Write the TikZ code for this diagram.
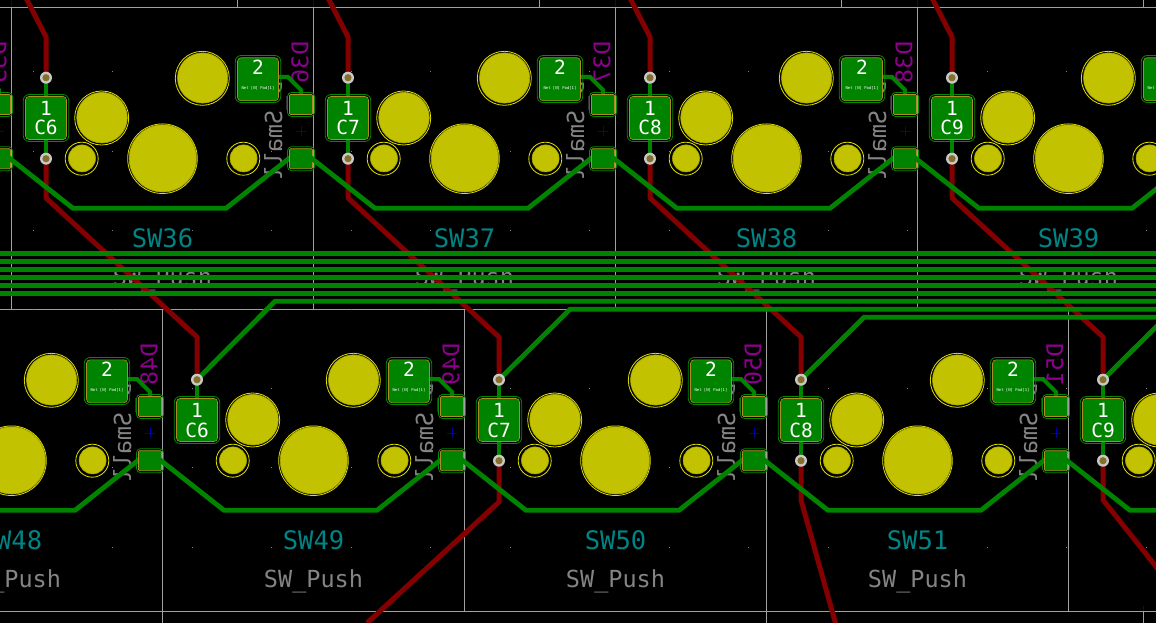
\documentclass[tikz,border=0pt]{standalone}
\usepackage{fontspec}
\usepackage{graphicx}
\setmonofont{DejaVu Sans Mono}
\definecolor{pcbgreen}{HTML}{008400}
\definecolor{pcbred}{HTML}{840000}
\definecolor{frameg}{HTML}{A0A0A0}
\definecolor{silkg}{HTML}{848484}
\definecolor{teal2}{HTML}{008484}
\definecolor{mag2}{HTML}{8C008C}
\definecolor{holef}{HTML}{C2C200}
\definecolor{holee}{HTML}{A8A800}
\definecolor{holel}{HTML}{E0E000}
\definecolor{padedge}{HTML}{B08A2A}
\definecolor{padline}{HTML}{008C00}
\definecolor{viaring}{HTML}{C8C8C8}
\definecolor{viahole}{HTML}{84702A}
\definecolor{blue2}{HTML}{0000A8}
\tikzset{
  frameline/.style={draw=frameg,line width=0.9pt},
  gtrace/.style={draw=pcbgreen,line width=4.8pt,line join=miter},
  rtrace/.style={draw=pcbred,line width=5pt,line join=round},
  bigpad/.style={rectangle,rounded corners=3.5pt,fill=pcbgreen,draw=padedge,line width=0.6pt,minimum width=41pt,minimum height=43pt,inner sep=0pt},
  bigring/.style={rectangle,rounded corners=6pt,draw=padline,line width=0.8pt,minimum width=45.5pt,minimum height=47pt,inner sep=0pt},
  smallpad/.style={rectangle,rounded corners=1pt,fill=pcbgreen,draw=padedge,line width=0.6pt,minimum width=23pt,minimum height=20pt,inner sep=0pt},
  smallring/.style={rectangle,rounded corners=4pt,draw=padline,line width=0.8pt,minimum width=27pt,minimum height=24pt,inner sep=0pt},
  padtxt/.style={text=white,font=\ttfamily\fontsize{19.5}{19}\selectfont,inner sep=0pt,anchor=base},
  tinytxt/.style={text=white,font=\ttfamily\fontsize{3.9}{4}\selectfont,inner sep=0pt},
  reftxt/.style={text=teal2,font=\ttfamily\fontsize{25.5}{26}\selectfont,inner sep=0pt,anchor=base},
  valtxt/.style={text=silkg,font=\ttfamily\fontsize{23.5}{24}\selectfont,inner sep=0pt,anchor=base},
  dtxt/.style={text=mag2,font=\ttfamily\fontsize{23}{24}\selectfont,inner sep=0pt,rotate=90},
  smalltxt/.style={text=silkg,font=\ttfamily\fontsize{23.5}{24}\selectfont,inner sep=0pt,rotate=90},
}
\newcommand\allunits[1]{%
  \foreach \r/\k/\dx/\dy/\base in {t/-1/-302/0/36,t/0/0/0/36,t/1/302/0/36,t/2/604/0/36,t/3/906/0/36,b/-1/-151/302/49,b/0/151/302/49,b/1/453/302/49,b/2/755/302/49,b/3/1057/302/49}{%
    \pgfmathtruncatemacro\num{\base+\k}%
    \begin{scope}[shift={(\dx,\dy)}]#1\end{scope}}}
\begin{document}
\begin{tikzpicture}[x=1pt,y=-1pt]
\useasboundingbox (0,0) rectangle (1156,623);
\fill[black] (0,0) rectangle (1156,623);
% frames
\draw[frameline] (0,7.3) -- (1156,7.3) (0,309.3) -- (1156,309.3) (0,611.3) -- (1156,611.3);
\foreach \x in {11.6,313.6,615.6,917.6}{\draw[frameline] (\x,7.3) -- (\x,309.3);}
\foreach \x in {162.6,464.6,766.6,1068.6}{\draw[frameline] (\x,309.3) -- (\x,611.3);}
\foreach \x in {237.7,539.7,841.7,1143.7}{\draw[frameline] (\x,0) -- (\x,7.3);}
\foreach \x in {162.6,766.6,1143.7}{\draw[frameline] (\x,611.3) -- (\x,623);}
\foreach \x in {11.7,313.7,615.7,917.7}{\draw[blue2,line width=0.8pt] (\x,0) -- (\x,7);}
\draw[blue2,line width=0.8pt] (1143.7,606) -- (1143.7,611);
% grid dots
\foreach \i in {0,...,14}{\foreach \y in {72,151,230,309,388,467,547}{
  \fill[silkg] ({33+79.5*\i-0.5},\y-0.5) rectangle ++(1,1);}}
% silk text and marks
\allunits{
  \node[reftxt] (ref-\r\k) at (162.5,247.3) {SW\num};
  \node[valtxt] (val-\r\k) at (162.5,285) {SW\_Push};
  \node[smalltxt] (small-\r\k) at (276,131.5) {\reflectbox{D\_Small}};
  \node[dtxt] (d-\r\k) at (300,62.5) {\reflectbox{D\num}};
  \draw[blue2,line width=0.8pt] (296,131) -- (306,131) (301,126) -- (301,136);
}
% holes
\allunits{
  \foreach \hx/\hy/\ro/\ri in {162.5/158.7/34.8/33.6,81.7/158.7/16.5/13.5,243.3/158.7/16.5/13.5,101.7/118/27/25.3,202.3/78.3/27/25.1}{
    \draw[holel,line width=0.8pt] (\hx,\hy) circle (\ro);
    \fill[holef,draw=holee,line width=0.6pt] (\hx+0.3,\hy-0.3) circle (\ri);
  }
}
% via positions
\foreach \n/\x/\y in {vta6/46/77.7,vtb6/46/158.7,vta7/348/77.7,vtb7/348/158.7,vta8/650/77.7,vtb8/650/158.7,vta9/952/77.7,vtb9/952/158.7,vba6/197/379.7,vba7/499/379.7,vbb7/499/460.7,vba8/801/379.7,vbb8/801/460.7,vba9/1103/379.7,vbb9/1103/460.7}
  {\coordinate (\n) at (\x,\y);}
% red traces
\draw[rtrace] (26,-2) -- (46,37) -- (vta6);
\draw[rtrace] (328,-2) -- (348,37) -- (vta7);
\draw[rtrace] (630,-2) -- (650,37) -- (vta8);
\draw[rtrace] (932,-2) -- (952,37) -- (vta9);
\draw[rtrace] (vtb6) -- (46,198) -- (197,337) -- (vba6);
\draw[rtrace] (vtb7) -- (348,198) -- (499,337) -- (vba7);
\draw[rtrace] (vtb8) -- (650,198) -- (801,337) -- (vba8);
\draw[rtrace] (vtb9) -- (952,198) -- (1103,337) -- (vba9);
\draw[rtrace] (vbb7) -- (499,502) -- (367,623);
\draw[rtrace] (vbb8) -- (801,500) -- (836,625);
\draw[rtrace] (vbb9) -- (1103,500) -- (1158,569);
% green bus
\foreach \y in {253.3,261.3,269.3,277.3,285.3,293.3}{\draw[gtrace] (0,\y) -- (1156,\y);}
\draw[gtrace] (vba6) -- (275,301.3) -- (1156,301.3);
\draw[gtrace] (vba7) -- (570,309.3) -- (1156,309.3);
\draw[gtrace] (vba8) -- (864,317.3) -- (1156,317.3);
\draw[gtrace] (vba9) -- (1158,325);
% via to pad
\foreach \n in {6,7,8,9}{\draw[gtrace] (vta\n) -- (vtb\n);}
\draw[gtrace] (vba6) -- (197,420);
\foreach \n in {7,8,9}{\draw[gtrace] (vba\n) -- (vbb\n);}
% pads, unit traces
\allunits{
  \coordinate (pc-\r\k) at (258,79);
  \coordinate (pu-\r\k) at (301,104.5);
  \coordinate (pl-\r\k) at (301,158.7);
  \draw[gtrace,line width=4pt] (pc-\r\k) -- (270,77) -- (288,77) -- (301,90) -- (pu-\r\k);
  \draw[gtrace] (1,151.5) -- (73,208.3) -- (226,208.3) -- (299,150.5);
  \node[bigring] (r2-\r\k) at (258,79) {};
  \node[bigpad] (p2-\r\k) at (258,79.3) {};
  \node[smallring] (ru-\r\k) at (pu-\r\k) {};
  \node[smallpad] (u-\r\k) at (pu-\r\k) {};
  \node[smallring] (rl-\r\k) at (pl-\r\k) {};
  \node[smallpad] (l-\r\k) at (pl-\r\k) {};
  \node[padtxt] (t2-\r\k) at (258,74.5) {2};
  \node[tinytxt] (n2-\r\k) at (258,88) {Net [N] Pad[1]};
}
% numbered pads
\foreach \n/\c/\x/\y in {a/6/46/0,b/7/348/0,c/8/650/0,d/9/952/0,e/6/197/302,f/7/499/302,g/8/801/302,h/9/1103/302}{
  \begin{scope}[shift={(\x,\y)}]
    \node[bigring] (r1\n) at (0,118) {};
    \node[bigpad] (p1\n) at (0,118) {};
    \node[padtxt] (o\n) at (0,115.5) {1};
    \node[padtxt] (c\n) at (0,135) {C\c};
  \end{scope}
}
% vias
\foreach \n in {vta6,vtb6,vta7,vtb7,vta8,vtb8,vta9,vtb9,vba6,vba7,vbb7,vba8,vbb8,vba9,vbb9}{
  \fill[viaring] (\n) circle (6);
  \fill[viahole] (\n) circle (3.6);
}
\end{tikzpicture}
\end{document}
